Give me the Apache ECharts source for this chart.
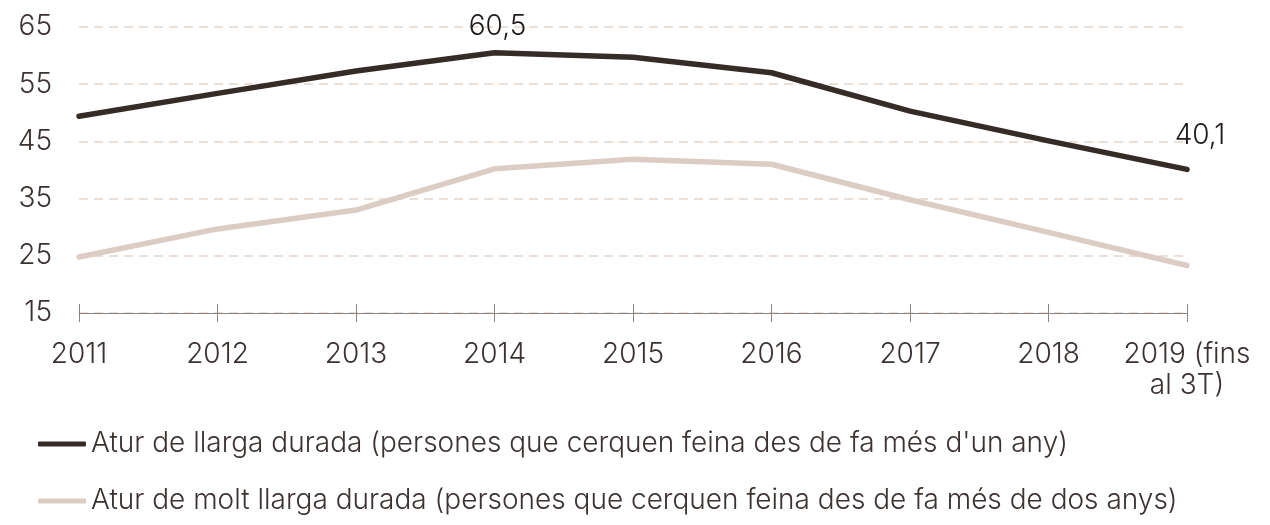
<!DOCTYPE html>
<html>
<head>
<meta charset="utf-8">
<style>
  html, body { margin: 0; padding: 0; background: #ffffff; }
  #chart { width: 1270px; height: 525px; }
</style>
<script src="https://cdn.jsdelivr.net/npm/echarts@6/dist/echarts.min.js"></script>
</head>
<body>
<div id="chart"></div>
<script>
// Long-term unemployment, thousands of people
const years = ['2011', '2012', '2013', '2014', '2015', '2016', '2017', '2018', '2019 (fins al 3T)'];
const longTerm = [49.4, 53.4, 57.3, 60.5, 59.7, 57.0, 50.3, 45.1, 40.1];
const veryLongTerm = [24.8, 29.7, 33.0, 40.2, 41.9, 41.0, 34.8, 29.1, 23.3];
const yTicks = { min: 15, max: 65, step: 10 };
const labelledLongTerm = [3, 8];

const seriesNames = [
  "Atur de llarga durada (persones que cerquen feina des de fa més d'un any)",
  "Atur de molt llarga durada (persones que cerquen feina des de fa més de dos anys)"
];

const FONT = 'Inter';
const FS = 28;
const FW = 300;
const TEXT = '#3b3330';
const DARK = '#352b27';
const LIGHT = '#dccdc4';

const fmt = v => String(v).replace('.', ',');

const labelOffsets = { 3: [3, -7], 8: [13, -15] };

const longTermData = longTerm.map((v, i) => {
  if (!labelledLongTerm.includes(i)) return v;
  return {
    value: v,
    label: {
      show: true,
      position: 'top',
      distance: 5,
      offset: labelOffsets[i],
      formatter: p => fmt(p.value),
      fontFamily: FONT,
      fontSize: FS,
      fontWeight: FW,
      color: '#1f1a18'
    }
  };
});

const chart = echarts.init(document.getElementById('chart'), null, { renderer: 'canvas' });

chart.setOption({
  animation: false,
  backgroundColor: '#ffffff',
  textStyle: { fontFamily: FONT },
  grid: { left: 79, right: 83, top: 27, bottom: 212, containLabel: false },
  legend: {
    orient: 'vertical',
    left: 33,
    top: 424,
    itemGap: 27,
    itemWidth: 48,
    itemHeight: 5,
    icon: 'roundRect',
    textStyle: { fontFamily: FONT, fontSize: FS, fontWeight: FW, color: TEXT, lineHeight: 30 },
    data: [
      { name: seriesNames[0], itemStyle: { color: DARK } },
      { name: seriesNames[1], itemStyle: { color: LIGHT } }
    ]
  },
  xAxis: [
    {
      type: 'category',
      position: 'bottom',
      data: years,
      boundaryGap: false,
      axisLine: { show: true, lineStyle: { color: '#8a8583', width: 1 } },
      axisTick: { show: true, length: 9, lineStyle: { color: '#8a8583' } },
      axisLabel: {
        interval: 0,
        margin: 26,
        fontFamily: FONT,
        fontSize: FS,
        fontWeight: FW,
        color: TEXT,
        lineHeight: 31,
        formatter: v => v.replace(' (fins al ', ' (fins\nal ')
      },
      splitLine: { show: false }
    },
    {
      type: 'category',
      position: 'bottom',
      data: years,
      boundaryGap: false,
      axisLine: { show: false },
      axisTick: { show: true, inside: true, length: 9, lineStyle: { color: '#8a8583' } },
      axisLabel: { show: false },
      splitLine: { show: false }
    }
  ],
  yAxis: {
    type: 'value',
    min: yTicks.min,
    max: yTicks.max,
    interval: yTicks.step,
    axisLine: { show: false },
    axisTick: { show: false },
    axisLabel: { margin: 27, fontFamily: FONT, fontSize: FS, fontWeight: FW, color: TEXT },
    splitLine: {
      show: true,
      lineStyle: { color: '#e5d6cc', type: [9, 6], width: 1.5 }
    }
  },
  series: [
    {
      name: seriesNames[1],
      type: 'line',
      xAxisIndex: 0,
      data: veryLongTerm,
      symbol: 'circle',
      symbolSize: 0,
      showSymbol: true,
      lineStyle: { color: LIGHT, width: 5.5, cap: 'round', join: 'round' },
      itemStyle: { color: LIGHT },
      z: 2
    },
    {
      name: seriesNames[0],
      type: 'line',
      xAxisIndex: 0,
      data: longTermData,
      symbol: 'circle',
      symbolSize: 0,
      showSymbol: true,
      lineStyle: { color: DARK, width: 5.5, cap: 'round', join: 'round' },
      itemStyle: { color: DARK },
      z: 3
    }
  ]
});
</script>
</body>
</html>
